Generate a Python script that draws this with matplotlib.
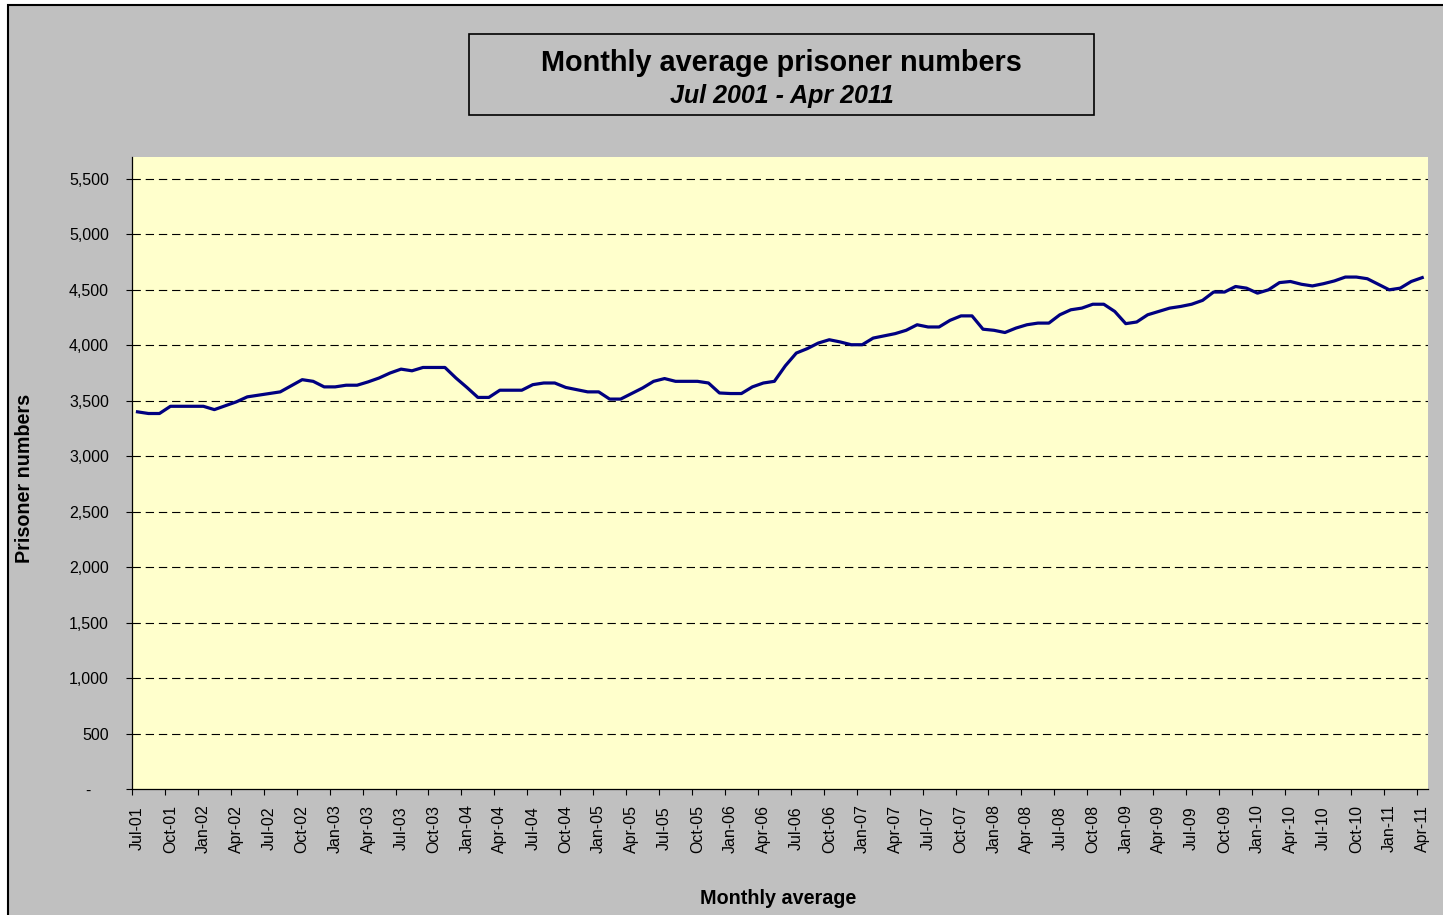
import numpy as np
import pandas as pd
import matplotlib
matplotlib.use("Agg")
import matplotlib.pyplot as plt
from matplotlib import font_manager
from matplotlib.patches import Rectangle
from matplotlib.ticker import FixedLocator, FuncFormatter

# monthly average prisoner numbers, Jul-01 .. Apr-11
prisoners = [
    3400, 3385, 3385, 3450, 3450, 3450, 3450, 3420, 3455, 3490, 3535, 3550,
    3565, 3580, 3635, 3690, 3675, 3625, 3625, 3640, 3640, 3670, 3705, 3750,
    3785, 3770, 3800, 3800, 3800, 3705, 3620, 3530, 3530, 3595, 3595, 3595,
    3645, 3660, 3660, 3620, 3600, 3580, 3580, 3515, 3515, 3565, 3615, 3675,
    3700, 3675, 3675, 3675, 3660, 3570, 3565, 3565, 3625, 3660, 3675, 3815,
    3930, 3970, 4020, 4050, 4030, 4005, 4005, 4065, 4085, 4105, 4135, 4185,
    4165, 4165, 4225, 4265, 4265, 4145, 4135, 4115, 4155, 4185, 4200, 4200,
    4275, 4320, 4335, 4370, 4370, 4305, 4195, 4210, 4275, 4305, 4335, 4350,
    4370, 4405, 4480, 4480, 4530, 4515, 4470, 4500, 4565, 4575, 4550, 4535,
    4555, 4580, 4615, 4615, 4600, 4550, 4500, 4515, 4575, 4610,
]
months = pd.date_range("2001-07-01", periods=len(prisoners), freq="MS").strftime("%b-%y").tolist()
yticks = [0, 500, 1000, 1500, 2000, 2500, 3000, 3500, 4000, 4500, 5000, 5500]

title = "Monthly average prisoner numbers"
subtitle = "Jul 2001 - Apr 2011"
xlabel = "Monthly average"
ylabel = "Prisoner numbers"

installed = {f.name for f in font_manager.fontManager.ttflist}
narrow = "Liberation Sans Narrow" in installed
if narrow:
    font = ["Liberation Sans Narrow", "Liberation Sans", "DejaVu Sans"]
    tick_fs, title_fs, sub_fs = 14, 25, 21
else:
    font = ["Liberation Sans", "DejaVu Sans"]
    tick_fs, title_fs, sub_fs = 11.5, 20.8, 18
plt.rcParams["font.family"] = font
plt.rcParams["lines.scale_dashes"] = False

W, H = 1443, 915
fig = plt.figure(figsize=(W / 100, H / 100), dpi=100, facecolor="white")

# outer chart frame (cropped at right/bottom)
fig.patches.append(Rectangle((7.5 / W, -0.1), 2, 1 - 5 / H + 0.1, transform=fig.transFigure,
                             facecolor="#C0C0C0", edgecolor="black", lw=1.5, zorder=-5))

ax = fig.add_axes([132 / W, 1 - 789 / H, (1427.7 - 132) / W, (789 - 156.7) / H])
ax.set_facecolor("#FFFFCC")

x = np.arange(len(prisoners))
ax.plot(x, prisoners, color="#000080", lw=2.3, zorder=3, solid_joinstyle="round")

ax.set_xlim(-0.5, len(prisoners) - 0.5)
ax.set_ylim(0, 5700)

for v in yticks[1:]:
    ax.axhline(v, color="black", lw=0.8, ls=(0, (6, 3.5)), zorder=1)

ax.set_yticks(yticks)
ax.yaxis.set_major_formatter(FuncFormatter(lambda v, p: "-    " if v == 0 else f"{v:,.0f}"))
ax.tick_params(axis="y", direction="out", length=4.5, width=0.8, pad=12, labelsize=tick_fs)

# tick marks on category boundaries, labels on every 3rd category
lab_idx = list(range(0, len(prisoners), 3))
ax.xaxis.set_major_locator(FixedLocator([i - 0.5 for i in lab_idx]))
ax.xaxis.set_major_formatter(FuncFormatter(lambda v, p: ""))
ax.xaxis.set_minor_locator(FixedLocator(lab_idx))
ax.set_xticklabels([months[i] for i in lab_idx], minor=True, rotation=90)
ax.tick_params(axis="x", which="major", direction="out", length=4.5, width=0.8)
ax.tick_params(axis="x", which="minor", length=0, pad=28.5, labelsize=tick_fs)
for lab in ax.get_xticklabels(minor=True):
    lab.set_va("center")

for s in ["top", "right"]:
    ax.spines[s].set_visible(False)
for s in ["left", "bottom"]:
    ax.spines[s].set_linewidth(0.9)

# title box
fig.patches.append(Rectangle((469 / W, 1 - 115 / H), 625 / W, 81 / H, transform=fig.transFigure,
                             facecolor="#C0C0C0", edgecolor="black", lw=1.2, zorder=1))
fig.text(781.5 / W, 1 - 63 / H, title, ha="center", va="center", fontsize=title_fs, fontweight="bold")
fig.text(781.5 / W, 1 - 96 / H, subtitle, ha="center", va="center", fontsize=sub_fs,
         fontweight="bold", style="italic")

fig.text(778 / W, 1 - 898 / H, xlabel, ha="center", va="center", fontsize=14.2,
         fontweight="bold", family=["Liberation Sans", "DejaVu Sans"])
fig.text(25 / W, 1 - 478 / H, ylabel, ha="center", va="center", rotation=90, fontsize=14.2,
         fontweight="bold", family=["Liberation Sans", "DejaVu Sans"])

fig.savefig("out.png", dpi=100, facecolor=fig.get_facecolor())
